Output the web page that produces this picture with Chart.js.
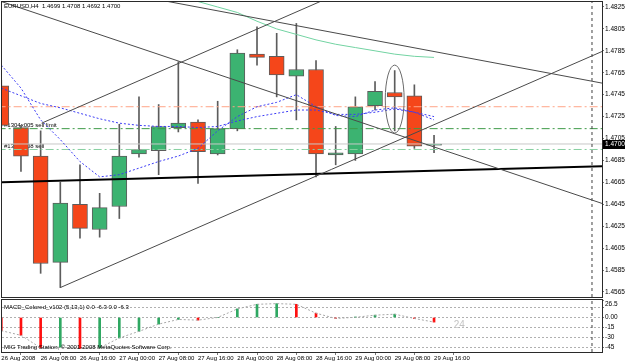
<!DOCTYPE html>
<html>
<head>
<meta charset="utf-8">
<title>EURUSD,H4</title>
<script src="https://cdn.jsdelivr.net/npm/chart.js@4.4.1/dist/chart.umd.min.js"></script>
<style>
html,body{margin:0;padding:0;background:#ffffff;}
#wrap{position:relative;width:625px;height:363px;overflow:hidden;background:#fff;}
canvas{position:absolute;left:0;}
#main{top:0;}
#macd{top:298px;}
</style>
</head>
<body>
<div id="wrap">
<canvas id="main" width="625" height="298"></canvas>
<canvas id="macd" width="625" height="65"></canvas>
</div>
<script>
// ---------------- DATA ----------------
const symbol = "EURUSD";
const timeframe = "H4";
const barIndex = [0,1,2,3,4,5,6,7,8,9,10,11,12,13,14,15,16,17,18,19,20,21,22];
const opens  = [1.4753,1.4715,1.4689,1.4592,1.4645,1.4622,1.4643,1.4691,1.4694,1.4715,1.4720,1.4691,1.4714,1.4782,1.4780,1.4762,1.4768,1.4690,1.4691,1.4735,1.4747,1.4744,1.4699];
const highs  = [1.4758,1.4717,1.4712,1.4665,1.4681,1.4655,1.4718,1.4743,1.4736,1.4775,1.4722,1.4739,1.4786,1.4807,1.4801,1.4810,1.4776,1.4716,1.4743,1.4757,1.4767,1.4754,1.4708];
const lows   = [1.4716,1.4675,1.4582,1.4569,1.4614,1.4615,1.4632,1.4688,1.4672,1.4711,1.4664,1.4690,1.4712,1.4772,1.4743,1.4722,1.4670,1.4681,1.4685,1.4731,1.4712,1.4696,1.4692];
const closes = [1.4717,1.4689,1.4591,1.4646,1.4623,1.4642,1.4689,1.4695,1.4716,1.4719,1.4693,1.4714,1.4783,1.4779,1.4763,1.4768,1.4691,1.4692,1.4734,1.4748,1.4743,1.4698,1.4700];

const timeTickBars   = [0,2,4,6,8,10,12,14,16,18,20,22];
const timeTickLabels = ["26 Aug 2008","26 Aug 08:00","26 Aug 16:00","27 Aug 00:00","27 Aug 08:00","27 Aug 16:00","28 Aug 00:00","28 Aug 08:00","28 Aug 16:00","29 Aug 00:00","29 Aug 08:00","29 Aug 16:00"];
const priceTicks = [1.4825,1.4805,1.4785,1.4765,1.4745,1.4725,1.4705,1.4685,1.4665,1.4645,1.4625,1.4605,1.4585,1.4565];

// moving averages
const maFast  = [1.4772,1.4751,1.4722,1.4704,1.4684,1.4670,1.4672,1.4678,1.4684,1.4689,1.4696,1.4712,1.4725,1.4734,1.4738,1.4745,1.4734,1.4726,1.4725,1.4731,1.4733,1.4729,1.4722];
const maSlow  = [1.4751,1.4744,1.4737,1.4733,1.4728,1.4723,1.4719,1.4717,1.4716,1.4716,1.4715,1.4716,1.4721,1.4725,1.4728,1.4731,1.4731,1.4727,1.4727,1.4729,1.4732,1.4729,1.4725];
const maGreenBars = [9,10,11,12,13,14,15,16,17,18,19,20,21,22];
const maGreen = [1.4835,1.4830,1.4825,1.4820,1.4812,1.4805,1.4800,1.4795,1.4791,1.4788,1.4785,1.4782,1.4780,1.4779];

// trend lines: [bar, price] end points
const trendA = [[0,1.4830],[31,1.4643]];
const trendB = [[3,1.4569],[31,1.4788]];
const trendC = [[2.05,1.4719],[18,1.4844]];
const trendD = [[7,1.4835],[31,1.4754]];
const trendE = [[0,1.4665],[31,1.4680]];

// horizontal levels
const levelPrices = [1.4734,1.4714,1.4700,1.4695];
const levelLabels = ["","#1304x005 sell limit","","#1304x008 sell"];

// ellipse object (bar, price, radius in bars, radius in price)
const ellipseMark = {bar:20, price:1.4741, rBars:0.48, rPrice:0.0031};
const separatorBar = 30.03;

// MACD
const macdName = "MACD_Colored_v102 (5,13,1) 0.0 -6.3 0.0 -6.3";
const macdValues = [-20,-27,-46,-45,-47,-46,-31,-21,-10,-3,-4,0,13,20,21,20,6.5,-1.5,0.3,3.5,5,-1.5,-7];
const macdTickValues = [26.5,15,0,-15,-30,-45];
const macdTickLabels = [["","26.5"],"","0.00","-15","-30","-45"];
const macdNote = {bar:23, value:-12, text:"24"};
const footerText = "MIG Trading Station, \u00A9 2001-2008 MetaQuotes Software Corp.";

// ---------------- STYLE / LAYOUT ----------------
const FF = '"Liberation Sans", Arial, sans-serif';
const FS_Y = 6.5;   // price / MACD axis labels
const FS = 6;       // time labels and chart texts
Chart.defaults.font.family = FF;
Chart.defaults.font.size = FS;

const X_MIN = 0.0356, X_MAX = 30.539;
const P_MAX = 1.482956, P_MIN = 1.456040;
const MACD_MAX = 26.5, MACD_MIN = -52.3;

const UP = '#3CB371', DOWN = '#F5461A', EDGE = '#5c5c5c', WICK = '#5c5c5c';

function pts(arr){ return arr.map(p=>({x:p[0], y:p[1]})); }
function lineDs(data, color, width, dash, order){
  return {type:'line', data, borderColor:color, borderWidth:width, borderDash:dash||[], pointRadius:0, tension:0, fill:false, order, clip:0};
}

const datasetsMain = [
  {type:'bar', data: barIndex.map(i=>({x:i, y:[lows[i], highs[i]]})), backgroundColor:WICK, barThickness:1, grouped:false, order:9, clip:0},
  {type:'bar', data: barIndex.map(i=>({x:i, y:[opens[i], closes[i]]})),
   backgroundColor: barIndex.map(i=> closes[i]>=opens[i] ? UP : DOWN),
   borderColor: barIndex.map(i=> i===barIndex.length-1 ? '#222' : EDGE),
   borderWidth:1, borderSkipped:false, barThickness:15, grouped:false, order:8, clip:0},
  lineDs([{x:-1,y:levelPrices[0]},{x:32,y:levelPrices[0]}], '#FFA587', 1, [8,3,2,3], 4),
  lineDs([{x:-1,y:levelPrices[1]},{x:32,y:levelPrices[1]}], '#3E9A48', 1, [8,3,2,3], 4),
  lineDs([{x:-1,y:levelPrices[2]},{x:32,y:levelPrices[2]}], '#C8C8C8', 1, [], 5),
  lineDs([{x:-1,y:levelPrices[3]},{x:32,y:levelPrices[3]}], '#86CFA0', 1, [8,3,2,3], 4),
  lineDs(maGreenBars.map((b,k)=>({x:b, y:maGreen[k]})), '#72D3A2', 1, [], 3),
  lineDs(maSlow.map((v,i)=>({x:barIndex[i], y:v})), '#3B3BF5', 1, [2,2], 3),
  lineDs(maFast.map((v,i)=>({x:barIndex[i], y:v})), '#3B3BF5', 1, [2,2], 3),
  lineDs(pts(trendA), '#4a4a4a', 1, [], 2),
  lineDs(pts(trendB), '#4a4a4a', 1, [], 2),
  lineDs(pts(trendC), '#4a4a4a', 1, [], 2),
  lineDs(pts(trendD), '#4a4a4a', 1, [], 2),
  lineDs(pts(trendE), '#000000', 2, [], 2),
  lineDs([{x:separatorBar,y:P_MIN},{x:separatorBar,y:P_MAX}], '#404040', 1, [3,3], 1)
];

const mainOverlay = {
  id:'mainOverlay',
  beforeDatasetsDraw(chart){
    const {ctx, chartArea:a, scales:{y}} = chart;
    ctx.save();
    ctx.font = FS+'px '+FF; ctx.fillStyle='#000'; ctx.textAlign='left'; ctx.textBaseline='bottom';
    levelLabels.forEach((t,k)=>{ if(t) ctx.fillText(t, a.left+2, y.getPixelForValue(levelPrices[k])-0.5); });
    ctx.restore();
  },
  afterDatasetsDraw(chart){
    const {ctx, chartArea:a, scales:{x,y}} = chart;
    ctx.save();
    ctx.beginPath(); ctx.rect(a.left,a.top,a.right-a.left,a.bottom-a.top); ctx.clip();
    const cx=x.getPixelForValue(ellipseMark.bar), cy=y.getPixelForValue(ellipseMark.price);
    const rx=Math.abs(x.getPixelForValue(ellipseMark.bar+ellipseMark.rBars)-cx);
    const ry=Math.abs(y.getPixelForValue(ellipseMark.price+ellipseMark.rPrice)-cy);
    ctx.strokeStyle='#6a6a6a'; ctx.lineWidth=1;
    ctx.beginPath(); ctx.ellipse(cx,cy,rx,ry,0,0,Math.PI*2); ctx.stroke();
    ctx.restore();
    // title
    const n = closes.length-1;
    const title = symbol+','+timeframe+'  '+[opens[n],highs[n],lows[n],closes[n]].map(v=>v.toFixed(4)).join(' ');
    ctx.save();
    ctx.font = FS+'px '+FF; ctx.fillStyle='#000'; ctx.textAlign='left'; ctx.textBaseline='middle';
    ctx.fillText(title, a.left+2, a.top+4);
    ctx.restore();
  },
  afterDraw(chart){
    const {ctx, chartArea:a, scales:{y}} = chart;
    ctx.save();
    ctx.strokeStyle='#2a2a2a'; ctx.lineWidth=1;
    ctx.strokeRect(Math.round(a.left)-0.5, Math.round(a.top)-0.5, Math.round(a.right-a.left)+1, Math.round(a.bottom-a.top)+1);
    // current price box
    const last = closes[closes.length-1];
    const py = Math.round(y.getPixelForValue(last));
    ctx.fillStyle='#000';
    ctx.fillRect(a.right+1, py-4, 625-a.right-1, 9);
    ctx.fillStyle='#fff'; ctx.font=FS_Y+'px '+FF; ctx.textAlign='left'; ctx.textBaseline='middle';
    ctx.fillText(last.toFixed(4), a.right+3, py+0.5);
    ctx.restore();
  }
};

new Chart(document.getElementById('main'), {
  type:'line',
  data:{datasets:datasetsMain},
  options:{
    responsive:false, animation:false, devicePixelRatio:1, events:[],
    layout:{padding:{left:2, top:2, right:0, bottom:1}},
    plugins:{legend:{display:false}, tooltip:{enabled:false}},
    scales:{
      x:{type:'linear', min:X_MIN, max:X_MAX, display:false, offset:false},
      y:{type:'linear', position:'right', min:P_MIN, max:P_MAX,
        afterBuildTicks: s => { s.ticks = priceTicks.map(v=>({value:v})); },
        afterFit: s => { s.width = 23; s.paddingTop = 0; s.paddingBottom = 0; },
        ticks:{autoSkip:false, padding:1, color:'#000', font:{size:FS_Y, family:FF}, callback: v => Number(v).toFixed(4)},
        grid:{drawOnChartArea:false, drawTicks:true, tickLength:2, color:'#777', tickColor:'#777'},
        border:{display:true, color:'#777'}
      }
    }
  },
  plugins:[mainOverlay]
});

// ---------------- MACD WINDOW ----------------
const macdColors = macdValues.map((v,i)=> (i>0 && v>macdValues[i-1]) ? '#2FA862' : '#FF1010');
const macdOverlay = {
  id:'macdOverlay',
  afterDatasetsDraw(chart){
    const {ctx, chartArea:a, scales:{x,y}} = chart;
    ctx.save();
    ctx.font = FS+'px '+FF; ctx.fillStyle='#000'; ctx.textAlign='left'; ctx.textBaseline='middle';
    ctx.fillText(macdName, a.left+2, a.top+7);
    ctx.fillText(footerText, a.left+2, a.bottom-5);
    ctx.fillStyle='#c4c4c4'; ctx.font='10px '+FF;
    ctx.fillText(macdNote.text, x.getPixelForValue(macdNote.bar), y.getPixelForValue(macdNote.value));
    ctx.restore();
  },
  afterDraw(chart){
    const {ctx, chartArea:a} = chart;
    ctx.save();
    ctx.strokeStyle='#2a2a2a'; ctx.lineWidth=1;
    ctx.strokeRect(Math.round(a.left)-0.5, Math.round(a.top)-0.5, Math.round(a.right-a.left)+1, Math.round(a.bottom-a.top)+1);
    ctx.restore();
  }
};

new Chart(document.getElementById('macd'), {
  type:'line',
  data:{datasets:[
    {type:'bar', data: macdValues.map((v,i)=>({x:barIndex[i], y:v})), backgroundColor:macdColors, barThickness:2, grouped:false, order:3, clip:0},
    lineDs(macdValues.map((v,i)=>({x:barIndex[i], y:v})), '#a8a8a8', 1, [2,2], 2),
    lineDs([{x:separatorBar,y:MACD_MIN},{x:separatorBar,y:MACD_MAX}], '#404040', 1, [3,3], 1)
  ]},
  options:{
    responsive:false, animation:false, devicePixelRatio:1, events:[],
    layout:{padding:{left:2, top:2, right:0, bottom:0}},
    plugins:{legend:{display:false}, tooltip:{enabled:false}},
    scales:{
      x:{type:'linear', min:X_MIN, max:X_MAX, offset:false, position:'bottom',
        afterBuildTicks: s => { s.ticks = timeTickBars.map(v=>({value:v})); },
        afterFit: s => { s.height = 11; s.paddingLeft = 0; s.paddingRight = 0; },
        ticks:{autoSkip:false, maxRotation:0, minRotation:0, align:'start', padding:0, color:'#000', font:{size:FS, family:FF},
          callback:(v,i)=> timeTickLabels[i]},
        grid:{drawOnChartArea:false, drawTicks:true, tickLength:3, color:'#777', tickColor:'#777'},
        border:{display:false}
      },
      y:{type:'linear', position:'right', min:MACD_MIN, max:MACD_MAX,
        afterBuildTicks: s => { s.ticks = macdTickValues.map(v=>({value:v})); },
        afterFit: s => { s.width = 23; s.paddingTop = 0; s.paddingBottom = 0; },
        ticks:{autoSkip:false, padding:1, color:'#000', font:{size:FS_Y, family:FF}, callback:(v,i)=> macdTickLabels[i]},
        grid:{drawOnChartArea:true, drawTicks:true, tickLength:2,
          color: c => (c.tick && c.tick.value===MACD_MAX) ? 'rgba(0,0,0,0)' : '#b0b0b0', tickColor:'#777'},
        border:{display:true, color:'#777', dash:[2,2]}
      }
    }
  },
  plugins:[macdOverlay]
});
</script>
</body>
</html>
